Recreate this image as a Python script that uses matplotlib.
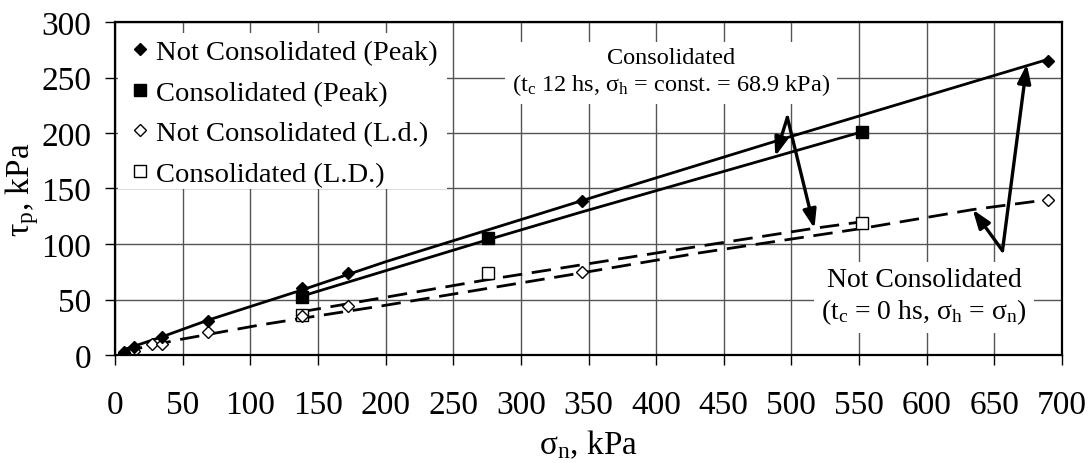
import matplotlib
matplotlib.use("Agg")
import matplotlib.pyplot as plt
from matplotlib.lines import Line2D
from matplotlib.patches import Rectangle

plt.rcParams['font.family'] = ['Liberation Serif', 'DejaVu Serif']
plt.rcParams['mathtext.fontset'] = 'custom'
plt.rcParams['mathtext.rm'] = 'Liberation Serif'
plt.rcParams['mathtext.it'] = 'Liberation Serif:italic'

# ---- data ----
sn_nc_peak = [6.9, 13.8, 34.5, 69, 138, 172.5, 345, 690]
tau_nc_peak = [3, 7, 16, 31, 60, 74, 139, 265]

sn_c_peak = [138, 276, 552]
tau_c_peak = [52, 105, 201]

sn_nc_ld = [6.9, 13.8, 27.6, 34.5, 69, 138, 172.5, 345, 690]
tau_nc_ld = [2, 4, 10, 10, 21, 35, 44, 75, 140]

sn_c_ld = [138, 276, 552]
tau_c_ld = [36, 74, 119]

# trend lines
fit_nc_peak_x = [7, 35, 69, 138, 200, 345, 500, 686]
fit_nc_peak_y = [5, 16.5, 31.5, 58.5, 84, 139, 197, 265]
fit_c_peak_x = [138, 276, 344, 400, 552]
fit_c_peak_y = [53, 104, 128.5, 148, 201]
fit_nc_ld_x = [6, 46, 107, 138, 196, 345, 432, 552, 634, 690]
fit_nc_ld_y = [3, 13.5, 27, 33, 44, 74, 92, 114, 131, 140]
fit_c_ld_x = [138, 276, 432, 516, 552]
fit_c_ld_y = [39, 68, 98, 114, 120]

# arrows: (vertex, tip)
arrows_c = [((497, 214), (488, 179)), ((497, 214), (517, 114))]
arrows_nc = [((656, 94), (674, 262)), ((656, 94), (634, 131))]

x_ticks = list(range(0, 701, 50))
y_ticks = list(range(0, 301, 50))

fig = plt.figure(figsize=(10.9, 4.64), dpi=100)
ax = fig.add_axes([115/1090, 1-356/464, 947/1090, 333/464])
ax.set_xlim(0, 700)
ax.set_ylim(0, 300)
ax.set_xticks(x_ticks)
ax.set_yticks(y_ticks)
ax.grid(True, color='#555555', linewidth=1.0, zorder=0.5)
ax.set_axisbelow(True)
for s in ax.spines.values():
    s.set_linewidth(1.6)
    s.set_zorder(5)
ax.tick_params(direction='out', length=7, width=1, labelsize=24)
ax.tick_params(axis='x', pad=18)
ax.tick_params(axis='y', pad=10)

# white box behind legend
ax.add_patch(Rectangle((3/947, 1-(189-23)/333 - 0.002), (447-118)/947, (189-33)/333,
                       transform=ax.transAxes, facecolor='white', edgecolor='none', zorder=1.5))

# trend lines
ax.plot(fit_nc_peak_x, fit_nc_peak_y, color='black', lw=2.0, zorder=2)
ax.plot(fit_c_peak_x, fit_c_peak_y, color='black', lw=2.0, zorder=2)
ax.plot(fit_nc_ld_x, fit_nc_ld_y, color='black', lw=2.0, dashes=(7, 3.5), zorder=2)
ax.plot(fit_c_ld_x, fit_c_ld_y, color='black', lw=2.0, dashes=(7, 3.5), zorder=2)

# markers
ax.plot(sn_c_ld, tau_c_ld, ls='none', marker='s', ms=8, mfc='white', mec='black', mew=1, zorder=3)
ax.plot(sn_nc_ld, tau_nc_ld, ls='none', marker='D', ms=6.5, mfc='white', mec='black', mew=1, zorder=3)
ax.plot(sn_c_peak, tau_c_peak, ls='none', marker='s', ms=8.5, mfc='black', mec='black', zorder=3)
ax.plot(sn_nc_peak, tau_nc_peak, ls='none', marker='D', ms=6.5, mfc='black', mec='black', zorder=3)

handles = [
    Line2D([], [], ls='none', marker='D', ms=6.5, mfc='black', mec='black'),
    Line2D([], [], ls='none', marker='s', ms=8.5, mfc='black', mec='black'),
    Line2D([], [], ls='none', marker='D', ms=6.5, mfc='white', mec='black', mew=1),
    Line2D([], [], ls='none', marker='s', ms=8, mfc='white', mec='black', mew=1),
]
labels = ['Not Consolidated (Peak)', 'Consolidated (Peak)',
          'Not Consolidated (L.d.)', 'Consolidated (L.D.)']
leg = ax.legend(handles, labels, loc='upper left', bbox_to_anchor=((129-115)/947, (356-40)/333),
                frameon=False, fontsize=20.5, borderaxespad=0, borderpad=0,
                handlelength=0.8, handletextpad=0.15, labelspacing=0.52)
leg.set_zorder(4)

# arrows
for vtx, tip in arrows_c + arrows_nc:
    ax.annotate('', xy=tip, xytext=vtx,
                arrowprops=dict(arrowstyle='-|>,head_length=0.7,head_width=0.25',
                                color='black', lw=2.4, shrinkA=0, shrinkB=0,
                                mutation_scale=16), zorder=4)

# annotations
ax.text(411, 255, 'Consolidated\n(t$_\\mathrm{c}$ 12 hs, σ$_\\mathrm{h}$ = const. = 68.9 kPa)',
        ha='center', va='center', multialignment='center', fontsize=17.5,
        bbox=dict(facecolor='white', edgecolor='none', pad=5), zorder=4)
ax.text(598, 52.7, 'Not Consolidated\n(t$_\\mathrm{c}$ = 0 hs, σ$_\\mathrm{h}$ = σ$_\\mathrm{n}$)',
        ha='center', va='center', multialignment='center', fontsize=20,
        bbox=dict(facecolor='white', edgecolor='none', pad=5), zorder=4)

ax.set_xlabel('σ$_\\mathrm{n}$, kPa', fontsize=24, labelpad=5)
ax.set_ylabel('τ$_\\mathrm{p}$, kPa', fontsize=24, labelpad=0)

fig.savefig('out.png', dpi=100)
